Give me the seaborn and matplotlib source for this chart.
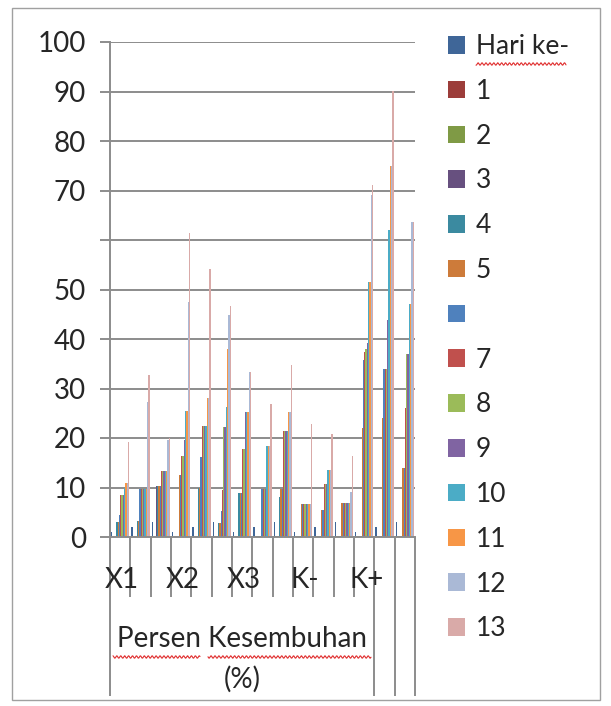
import numpy as np
import pandas as pd
import matplotlib
import matplotlib.pyplot as plt
import seaborn as sns
from matplotlib.patches import Patch, Rectangle
from matplotlib.lines import Line2D

matplotlib.use('agg')

# data
groups = ["X1", "X2", "X3", "K-", "K+"]
kategori = [g + "-" + str(r) for g in groups for r in (1, 2, 3)]
seri = ["Hari ke-", "1", "2", "3", "4", "5", "6", "7", "8", "9", "10", "11", "12", "13"]
seri_label = ["Hari ke-", "1", "2", "3", "4", "5", "", "7", "8", "9", "10", "11", "12", "13"]

hari = [1, 2, 3, 1, 2, 3, 1, 2, 3, 1, 2, 3, 1, 2, 3]
d1 = [0, 0, 0, 0, 0, 0, 0, 0, 0, 0, 0, 0, 0, 0, 0]
d2 = [0, 0, 0, 0, 0, 0, 0, 0, 0, 0, 0, 0, 0, 0, 0]
d3 = [0, 0, 10.3, 0, 0, 0, 0, 0, 0, 0, 0, 0, 0, 0, 0]
d4 = [3, 3.2, 10.3, 0, 10, 2.8, 8.9, 0, 8, 0, 0, 0, 0, 0, 0]
d5 = [3, 3.2, 10.3, 12.5, 10, 2.8, 8.9, 0, 9.7, 6.6, 5.5, 6.8, 22, 24, 14]
d6 = [4.5, 9.7, 10.3, 12.5, 16.2, 5.2, 8.9, 9.7, 9.7, 6.6, 5.5, 6.8, 35.8, 34, 14]
d7 = [8.4, 9.7, 13.4, 16.3, 22.4, 9.5, 17.7, 9.7, 21.5, 6.6, 10.8, 6.8, 37.4, 34, 26]
d8 = [8.4, 9.7, 13.4, 16.3, 22.4, 22.3, 17.7, 9.7, 21.5, 6.6, 10.8, 6.8, 38, 34, 37]
d9 = [8.4, 9.7, 13.4, 19.5, 22.4, 22.3, 25.3, 9.7, 21.5, 6.6, 10.8, 6.8, 39.2, 43.8, 37]
d10 = [10, 9.7, 13.4, 25.5, 22.4, 26.3, 25.3, 18.3, 21.5, 6.6, 13.5, 6.8, 51.5, 62, 47]
d11 = [11, 9.7, 13.4, 25.5, 28.1, 37.9, 25.3, 18.3, 25.2, 6.6, 13.5, 6.8, 51.5, 75, 47]
d12 = [11, 27.3, 19.5, 47.5, 28.1, 44.8, 33.3, 18.3, 25.2, 6.6, 13.5, 9, 69, 75, 63.7]
d13 = [19.2, 32.8, 20, 61.5, 54.2, 46.6, 33.3, 26.8, 34.7, 22.8, 20.8, 16.4, 71.1, 90.2, 63.7]

yticks = [0, 10, 20, 30, 40, 50, 60, 70, 80, 90, 100]
ytick_labels = ["0", "10", "20", "30", "40", "50", "", "70", "80", "90", "100"]

colors = ["#3F6698", "#9C3D3A", "#7F9A45", "#67507F", "#3B8AA0", "#CD7B3A", "#4F81BD",
          "#C0504D", "#9BBB59", "#8064A2", "#4BACC6", "#F79646", "#AAB9D6", "#D9AAA8"]

all_series = [hari, d1, d2, d3, d4, d5, d6, d7, d8, d9, d10, d11, d12, d13]
rows = []
for s, vals in zip(seri, all_series):
    for k, v in zip(kategori, vals):
        rows.append({"kategori": k, "seri": s, "nilai": v})
df = pd.DataFrame(rows)

sns.set_style("white")
plt.rcParams['font.family'] = ['Lato', 'DejaVu Sans']
fs = 20
fs_leg = 19

W, H = 611, 706
fig = plt.figure(figsize=(W / 100, H / 100), dpi=100)
ax = fig.add_axes([110 / W, 1 - 537 / H, 305 / W, 495 / H])

sns.barplot(data=df, x="kategori", y="nilai", hue="seri", order=kategori, hue_order=seri,
            palette=colors, width=0.9, gap=0, errorbar=None, legend=False,
            saturation=1, linewidth=0, ax=ax)

grid_col = "#8C8C8C"
ax.set_xlim(-0.5, len(kategori) - 0.5)
ax.set_ylim(0, 100)
ax.set_yticks(yticks)
ax.set_yticklabels(ytick_labels)
ax.set_xticks([])
ax.set_xlabel("")
ax.set_ylabel("")
ax.yaxis.grid(True, color=grid_col, linewidth=1.4)
ax.set_axisbelow(True)
ax.tick_params(axis="y", direction="out", length=7.2, width=1.4, color=grid_col,
               pad=10, labelsize=fs, left=True)
for side in ["top", "right"]:
    ax.spines[side].set_visible(False)
for side in ["left", "bottom"]:
    ax.spines[side].set_color(grid_col)
    ax.spines[side].set_linewidth(1.4)

# multi-level category axis
trans = ax.get_xaxis_transform()
short = [i + 0.5 for i in range(12)]
long = [-0.5, 12.5, 13.5, 14.5]
ax.vlines(short, -0.121, 0, transform=trans, clip_on=False, color=grid_col, linewidth=1.4)
ax.vlines(long, -0.321, 0, transform=trans, clip_on=False, color=grid_col, linewidth=1.4)
for i, g in enumerate(groups):
    ax.text(3 * i + 0.1, -0.087, g, transform=trans, ha="center", va="center", fontsize=fs)
ax.text(6.0, -0.207, "Persen Kesembuhan", transform=trans, ha="center", va="center", fontsize=fs)
ax.text(6.0, -0.287, "(%)", transform=trans, ha="center", va="center", fontsize=fs)

handles = [Patch(facecolor=c, edgecolor="none") for c in colors]
fig.legend(handles, seri_label, loc="upper left", bbox_to_anchor=(448 / W, 1 - 34 / H),
           frameon=False, fontsize=fs_leg, handlelength=0.65, handleheight=0.65,
           handletextpad=0.4, labelspacing=0.75, borderpad=0, borderaxespad=0)


def squiggle(x0, x1, y):
    xs = np.linspace(x0, x1, int((x1 - x0) * 2))
    ys = y + 1.2 * np.sin(xs * 1.6)
    fig.add_artist(Line2D(xs / W, 1 - ys / H, color="#E03030", linewidth=0.8))


squiggle(476, 566, 64)
squiggle(113, 200, 657)
squiggle(208, 371, 657)

fig.add_artist(Rectangle((12 / W, 1 - 700 / H), 588 / W, 692 / H, fill=False,
                         edgecolor="#A0A0A0", linewidth=1))

fig.savefig("out.png", dpi=100)
